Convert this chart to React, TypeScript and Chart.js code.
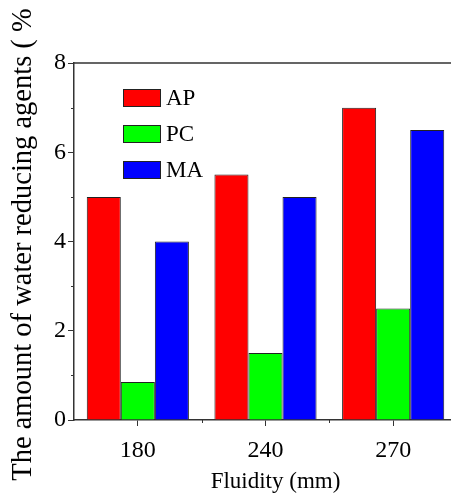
import React, { useEffect, useRef } from "react";
import { Chart, registerables } from "chart.js";

Chart.register(...registerables);

const categories = ["180", "240", "270"];
const seriesNames = ["AP", "PC", "MA"];
const apValues = [5, 5.5, 7];
const pcValues = [0.85, 1.5, 2.5];
const maValues = [4, 5, 6.5];
const seriesColors = ["#FF0000", "#00FF00", "#0000FF"];
const yTicks = [0, 2, 4, 6, 8];
const yMinorTicks = [1, 3, 5, 7];
const xTitle = "Fluidity (mm)";
const yTitle = "The amount of water reducing agents ( %";

const FONT = '"Liberation Serif"';
const AXIS = "#333333";

const decorPlugin = {
  id: "decor",
  afterDraw(chart: any) {
    const { ctx, chartArea } = chart;
    const x = chart.scales.x;
    const y = chart.scales.y;
    ctx.save();
    ctx.strokeStyle = AXIS;
    ctx.lineWidth = 1.5;
    ctx.beginPath();
    ctx.moveTo(chartArea.left, chartArea.top);
    ctx.lineTo(chartArea.right, chartArea.top);
    ctx.lineTo(chartArea.right, chartArea.bottom);
    ctx.stroke();
    ctx.lineWidth = 1;
    yMinorTicks.forEach((v) => {
      const py = Math.round(y.getPixelForValue(v)) + 0.5;
      ctx.beginPath();
      ctx.moveTo(chartArea.left - 3, py);
      ctx.lineTo(chartArea.left, py);
      ctx.stroke();
    });
    for (let i = 0; i < categories.length - 1; i++) {
      const px = Math.round((x.getPixelForValue(i) + x.getPixelForValue(i + 1)) / 2) + 0.5;
      ctx.beginPath();
      ctx.moveTo(px, chartArea.bottom);
      ctx.lineTo(px, chartArea.bottom + 3);
      ctx.stroke();
    }
    ctx.fillStyle = "#000";
    ctx.font = `23px ${FONT}`;
    ctx.textAlign = "center";
    ctx.textBaseline = "middle";
    ctx.fillText(xTitle, (chartArea.left + chartArea.right) / 2 + 10, 482);
    ctx.save();
    ctx.translate(24, (chartArea.top + chartArea.bottom) / 2 + 3);
    ctx.rotate(-Math.PI / 2);
    ctx.font = `28.5px ${FONT}`;
    ctx.fillText(yTitle, 0, 0);
    ctx.restore();
    const ds = chart.data.datasets;
    ds.forEach((d: any, i: number) => {
      const bx = 123;
      const by = 89 + i * 36;
      ctx.fillStyle = d.backgroundColor;
      ctx.fillRect(bx, by, 38, 18);
      ctx.strokeStyle = "#222";
      ctx.lineWidth = 1;
      ctx.strokeRect(bx + 0.5, by + 0.5, 37, 17);
      ctx.fillStyle = "#000";
      ctx.font = `23px ${FONT}`;
      ctx.textAlign = "left";
      ctx.textBaseline = "middle";
      ctx.fillText(d.label, 166, by + 10);
    });
    ctx.restore();
  },
};

export default function App() {
  const ref = useRef<HTMLCanvasElement | null>(null);
  useEffect(() => {
    let chart: any = null;
    let cancelled = false;
    const build = () => {
      if (cancelled || !ref.current) return;
      chart = new Chart(ref.current, {
        type: "bar",
        data: {
          labels: categories,
          datasets: [apValues, pcValues, maValues].map((vals, i) => ({
            label: seriesNames[i],
            data: vals,
            backgroundColor: seriesColors[i],
            borderColor: "#222222",
            borderWidth: 1,
            categoryPercentage: 0.8,
            barPercentage: 1.0,
          })),
        },
        options: {
          responsive: false,
          animation: false,
          devicePixelRatio: 1,
          layout: { padding: { top: 63, right: 13, left: 0, bottom: 0 } },
          plugins: { legend: { display: false }, tooltip: { enabled: false } },
          scales: {
            x: {
              type: "category",
              grid: {
                offset: false,
                drawOnChartArea: false,
                drawTicks: true,
                tickLength: 6,
                tickColor: AXIS,
                tickWidth: 1,
              },
              border: { color: AXIS, width: 1.5 },
              ticks: {
                color: "#000",
                font: { family: FONT, size: 24 },
                padding: 10,
                maxRotation: 0,
              },
              afterFit(scale: any) {
                scale.height = 82;
              },
            },
            y: {
              min: 0,
              max: 8,
              afterBuildTicks(scale: any) {
                scale.ticks = yTicks.map((v) => ({ value: v }));
              },
              grid: {
                drawOnChartArea: false,
                drawTicks: true,
                tickLength: 6,
                tickColor: AXIS,
                tickWidth: 1,
              },
              border: { color: AXIS, width: 1.5 },
              ticks: {
                color: "#000",
                font: { family: FONT, size: 24 },
                padding: 2,
                callback: (v: any) => String(v),
              },
              afterFit(scale: any) {
                scale.width = 74;
              },
            },
          },
        },
        plugins: [decorPlugin],
      });
    };
    const fonts: any = (document as any).fonts;
    const start = () => setTimeout(build, 30);
    if (fonts && fonts.load) {
      fonts.load('24px "Liberation Serif"', "AP 0123456789").then(() => fonts.ready).then(start, start);
    } else {
      start();
    }
    return () => {
      cancelled = true;
      if (chart) chart.destroy();
    };
  }, []);
  return (
    <div style={{ position: "fixed", left: 0, top: 0, width: 451, height: 502, overflow: "hidden", background: "#fff" }}>
      <span style={{ position: "absolute", left: 0, top: 0, fontFamily: FONT, fontSize: 24, color: "#fff", zIndex: 0 }}>AP PC MA Fluidity 0123456789</span>
      <canvas ref={ref} width={470} height={502} style={{ position: "relative", zIndex: 1, width: 470, height: 502, display: "block", background: "#fff" }} />
    </div>
  );
}
